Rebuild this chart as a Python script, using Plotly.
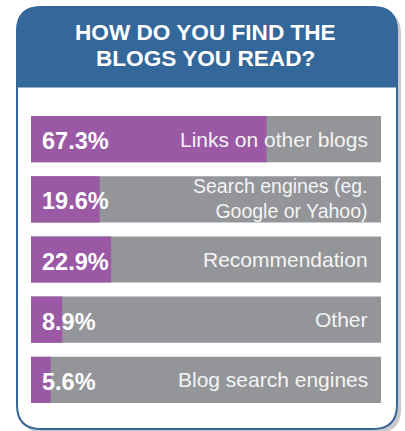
import plotly.graph_objects as go

# Survey data
categories = ["Links on other blogs", "Search engines (eg. Google or Yahoo)",
              "Recommendation", "Other", "Blog search engines"]
bar_labels = ["Links on other blogs", "Search engines (eg.<br>Google or Yahoo)",
              "Recommendation", "Other", "Blog search engines"]
shares = [67.3, 19.6, 22.9, 8.9, 5.6]
full_scale = [100, 100, 100, 100, 100]
title_lines = ["HOW DO YOU FIND THE", "BLOGS YOU READ?"]

W, H = 405, 431
BLUE = "#34679a"
PURPLE = "#9b58a5"
GREY = "#939598"
FONT = "Liberation Sans, Arial, sans-serif"


def px(x):
    return x / W


def py(y):
    return 1 - y / H


def rounded_path(x0, y0, x1, y1, r_top, r_bot):
    pts = [
        f"M {px(x0 + r_top)},{py(y0)}",
        f"L {px(x1 - r_top)},{py(y0)}",
        f"Q {px(x1)},{py(y0)} {px(x1)},{py(y0 + r_top)}",
        f"L {px(x1)},{py(y1 - r_bot)}",
    ]
    if r_bot:
        pts.append(f"Q {px(x1)},{py(y1)} {px(x1 - r_bot)},{py(y1)}")
        pts.append(f"L {px(x0 + r_bot)},{py(y1)}")
        pts.append(f"Q {px(x0)},{py(y1)} {px(x0)},{py(y1 - r_bot)}")
    else:
        pts.append(f"L {px(x0)},{py(y1)}")
    pts.append(f"L {px(x0)},{py(y0 + r_top)}")
    pts.append(f"Q {px(x0)},{py(y0)} {px(x0 + r_top)},{py(y0)}")
    pts.append("Z")
    return " ".join(pts)


fig = go.Figure()
fig.add_trace(go.Bar(y=categories, x=full_scale, orientation="h",
                     marker=dict(color=GREY, line=dict(width=0)),
                     hoverinfo="skip", showlegend=False))
fig.add_trace(go.Bar(y=categories, x=shares, orientation="h",
                     marker=dict(color=PURPLE, line=dict(width=0)),
                     hoverinfo="skip", showlegend=False))

shapes = [
    # card shadow
    dict(type="path", xref="paper", yref="paper",
         path=rounded_path(20, 10, 401, 433, 24, 24),
         fillcolor="rgba(120,120,120,0.4)", line=dict(width=0), layer="below"),
    # card body
    dict(type="path", xref="paper", yref="paper",
         path=rounded_path(17, 7, 397, 429, 24, 24),
         fillcolor="white", line=dict(color=BLUE, width=2), layer="below"),
    # header band
    dict(type="path", xref="paper", yref="paper",
         path=rounded_path(17, 7, 397, 87, 24, 0),
         fillcolor=BLUE, line=dict(color=BLUE, width=1), layer="below"),
]

annotations = []
for i, line in enumerate(title_lines):
    annotations.append(dict(text=f"<b>{line}</b>", xref="paper", yref="paper",
                            x=px(205), y=py(32 + 26 * i), xanchor="center", yanchor="middle",
                            showarrow=False, font=dict(family=FONT, size=22.6, color="white")))

for cat, val, lab in zip(categories, shares, bar_labels):
    annotations.append(dict(text=f"<b>{val:.1f}%</b>", xref="x", yref="y", x=0, y=cat,
                            xanchor="left", yanchor="middle", xshift=9, yshift=-2,
                            showarrow=False, font=dict(family=FONT, size=23.5, color="white")))
    two_line = "<br>" in lab
    annotations.append(dict(text=lab, xref="x", yref="y", x=100, y=cat,
                            xanchor="right", yanchor="middle", align="right",
                            xshift=-11, yshift=1 if two_line else 0,
                            showarrow=False,
                            font=dict(family=FONT, size=19.5 if two_line else 21,
                                      color="#f4f4f4")))

fig.update_layout(
    width=W, height=H,
    margin=dict(l=0, r=0, t=0, b=0),
    paper_bgcolor="white", plot_bgcolor="rgba(0,0,0,0)",
    barmode="overlay", bargap=14 / 60,
    xaxis=dict(domain=[px(31), px(381)], range=[0, 100], visible=False, fixedrange=True),
    yaxis=dict(domain=[py(410), py(109)], autorange="reversed", visible=False,
               fixedrange=True, categoryorder="array", categoryarray=categories),
    shapes=shapes, annotations=annotations,
)

fig.write_html("out.html")
